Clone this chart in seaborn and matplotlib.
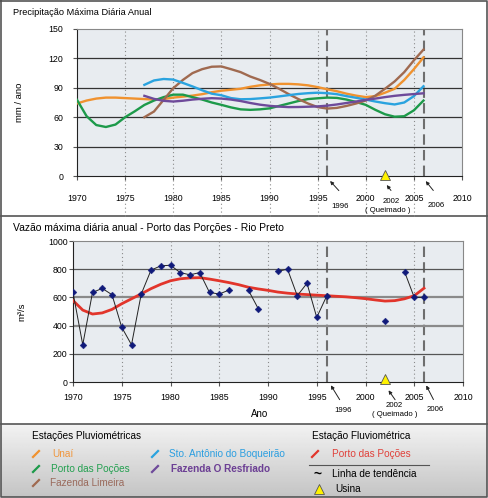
import numpy as np
import pandas as pd
import seaborn as sns
import matplotlib.pyplot as plt

plt.rcParams['font.family'] = ['Liberation Sans', 'DejaVu Sans']

# Precipitação máxima diária anual - curvas por estação (mm/ano)
anos_70 = list(range(1970, 2007))
anos_77 = list(range(1977, 2007))
unai = [74, 77, 79, 80, 80, 79.5, 79, 78.5, 78, 78.5, 80, 81, 82, 83.5, 85.5, 87, 88, 89,
        91, 92.5, 93.4, 94, 94, 93.5, 92.5, 90.7, 88.5, 86.5, 84, 82, 80.5, 81.5, 85, 89,
        98, 109, 121]
porto = [77.7, 61, 52, 50, 52.5, 60, 66, 72.5, 77, 80.5, 83, 83, 80.5, 78, 75, 72.6, 70, 68,
         67.5, 68, 69, 71.5, 74, 76.5, 78.5, 79.3, 80, 79.7, 78, 75.5, 72.6, 67.5, 63, 60.5,
         61, 67, 77]
limeira = [60, 65.8, 77.7, 89.6, 98, 105, 109, 111.5, 111.8, 109, 106, 101.5, 98, 94, 89,
           83.5, 78.5, 74, 70.3, 68.8, 69.5, 71.5, 74, 77, 82, 89, 96.5, 106, 118, 129]
boqueirao = [93, 97.5, 99, 98.4, 95, 91.4, 87.5, 84, 82.4, 79.5, 78.3, 78.5, 79.2, 80, 81.2,
             82.5, 83.7, 84.5, 85, 84.5, 83.5, 81.5, 79.8, 78, 76, 74.3, 73, 75, 81.5, 91.6]
resfriado = [81.8, 78.7, 76.7, 76, 76.8, 78, 78.8, 79.4, 79, 78, 76.5, 74.5, 72.8, 71.6, 70.8,
             70.3, 70.4, 70.7, 71, 71.8, 73, 74.5, 76, 77.7, 79, 80.5, 81.8, 82.8, 83.6, 84.4]

# Vazão máxima diária anual - Porto das Poções (m³/s)
vazao = [635, 264, 635, 664, 619, 388, 264, 624, 793, 824, 828, 776, 760, 776, 635, 624, 652,
         np.nan, 650, 520, np.nan, 785, 800, 612, 700, 458, 607, np.nan, np.nan, np.nan,
         np.nan, np.nan, 430, np.nan, 783, 600, 600]
tendencia = [578, 510, 482, 490, 515, 555, 590, 625, 662, 693, 718, 732, 738, 740, 730, 718,
             705, 690, 672, 660, 650, 638, 630, 624, 620, 616, 612, 608, 604, 598, 591, 582,
             574, 577, 590, 612, 665]

anos_ticks = list(range(1970, 2011, 5))
anos_marcados = [1996, 2006]
ano_usina = 2002

estacoes = ['Unaí', 'Porto das Poções', 'Fazenda Limeira', 'Sto. Antônio do Boqueirão',
            'Fazenda O Resfriado']
cores = {'Unaí': '#f0922f', 'Porto das Poções': '#1d9a4a', 'Fazenda Limeira': '#a06a50',
         'Sto. Antônio do Boqueirão': '#2aa3df', 'Fazenda O Resfriado': '#6e4a9a'}

prec = pd.concat([
    pd.DataFrame({'ano': anos_70, 'mm': unai, 'estacao': 'Unaí'}),
    pd.DataFrame({'ano': anos_70, 'mm': porto, 'estacao': 'Porto das Poções'}),
    pd.DataFrame({'ano': anos_77, 'mm': limeira, 'estacao': 'Fazenda Limeira'}),
    pd.DataFrame({'ano': anos_77, 'mm': boqueirao, 'estacao': 'Sto. Antônio do Boqueirão'}),
    pd.DataFrame({'ano': anos_77, 'mm': resfriado, 'estacao': 'Fazenda O Resfriado'}),
])

vaz = pd.DataFrame({'ano': anos_70, 'q': vazao, 'trend': tendencia})
vaz['seg'] = vaz['q'].isna().cumsum()
pontos = vaz.dropna(subset=['q'])

fig = plt.figure(figsize=(4.88, 4.98), dpi=100)

# fundo / molduras em coordenadas de pixel
bg = fig.add_axes([0, 0, 1, 1])
bg.set_xlim(0, 488)
bg.set_ylim(498, 0)
bg.axis('off')
grad = np.linspace(0.95, 0.77, 60)[:, None] * np.ones((60, 2))
bg.imshow(grad, cmap='gray', vmin=0, vmax=1, extent=(1, 487, 497, 424), aspect='auto', zorder=0)
bg.plot([1, 487, 487, 1, 1], [1, 1, 497, 497, 1], color='#555555', lw=1.2)
bg.plot([1, 487], [216, 216], color='#555555', lw=1.2)
bg.plot([1, 487], [424, 424], color='#555555', lw=1.2)

ax1 = fig.add_axes([77 / 488, 1 - 176 / 498, 385 / 488, 147 / 498])
ax2 = fig.add_axes([73 / 488, 1 - 382 / 498, 390 / 488, 141 / 498])

for ax in (ax1, ax2):
    ax.set_facecolor('#e8ecf0')
    ax.set_xlim(1970, 2010)
    ax.set_xticks(anos_ticks)
    ax.tick_params(direction='out', length=3, width=0.8, color='#555555', labelsize=6.3)
    for x in anos_ticks[1:-1]:
        ax.axvline(x, color='#8a8a8a', ls=(0, (1, 2.5)), lw=0.8, zorder=1)
    for x in anos_marcados:
        ax.axvline(x, color='#6e6e6e', ls=(0, (5, 2.5)), lw=1.5, zorder=1)
    ax.spines['top'].set_color('#888888')
    ax.spines['right'].set_color('#888888')
    ax.spines['left'].set_color('#222222')
    ax.spines['bottom'].set_color('#222222')

# painel superior
ax1.set_ylim(0, 150)
ax1.set_yticks([0, 30, 60, 90, 120, 150])
for y in [30, 60, 90, 120]:
    ax1.axhline(y, color='#333333', lw=0.9, zorder=1)
sns.lineplot(data=prec, x='ano', y='mm', hue='estacao', hue_order=estacoes, palette=cores,
             linewidth=1.7, legend=False, ax=ax1, zorder=3)
ax1.tick_params(axis='x', pad=10)
ax1.tick_params(axis='y', pad=7)
ax1.set_xlabel('')
ax1.set_ylabel('')
# linhas pontilhadas continuam abaixo do eixo
for x in anos_ticks[1:-1]:
    ax1.plot([x, x], [0, -41], color='#8a8a8a', ls=(0, (1, 2.5)), lw=0.8, clip_on=False)
ax1.plot([ano_usina], [1.5], marker='^', ms=7.5, color='#fff200', mec='#555555', mew=0.6,
         clip_on=False, zorder=5)

# painel inferior
ax2.set_ylim(0, 1000)
ax2.set_yticks(range(0, 1001, 200))
for y, c, w in [(200, '#555555', 0.9), (400, '#8a8a8a', 1.6), (600, '#8a8a8a', 1.6),
                (800, '#555555', 0.9)]:
    ax2.axhline(y, color=c, lw=w, zorder=1)
sns.lineplot(data=vaz, x='ano', y='trend', color='#e2352b', linewidth=2, ax=ax2, zorder=3)
sns.lineplot(data=pontos, x='ano', y='q', units='seg', estimator=None, color='#222222',
             linewidth=0.7, ax=ax2, zorder=4)
sns.scatterplot(data=pontos, x='ano', y='q', marker='D', s=12, color='#101a7a',
                edgecolor='#101a7a', ax=ax2, zorder=5)
ax2.tick_params(axis='x', pad=5)
ax2.tick_params(axis='y', pad=1)
ax2.set_xlabel('')
ax2.set_ylabel('')
ax2.plot([ano_usina], [20], marker='^', ms=7.5, color='#fff200', mec='#555555', mew=0.6,
         clip_on=False, zorder=5)

# setas e anotações
seta = dict(arrowstyle='-|>', color='#222222', lw=0.7, mutation_scale=5)
ax1.annotate('', xy=(1996.1, -3), xytext=(1997.4, -17), arrowprops=seta, annotation_clip=False)
ax1.annotate('', xy=(2002.0, -7), xytext=(2002.8, -17), arrowprops=seta, annotation_clip=False)
ax1.annotate('', xy=(2006.05, -3), xytext=(2007.2, -17), arrowprops=seta, annotation_clip=False)
ax1.text(1997.3, -31, '1996', fontsize=5.6, ha='center', va='center', clip_on=False)
ax1.text(2002.6, -26.5, '2002', fontsize=5.6, ha='center', va='center', clip_on=False)
ax1.text(2002.3, -35, '( Queimado )', fontsize=5.6, ha='center', va='center', clip_on=False)
ax1.text(2007.3, -30, '2006', fontsize=5.6, ha='center', va='center', clip_on=False)

ax2.annotate('', xy=(1996.3, -7), xytext=(1997.5, -142), arrowprops=seta, annotation_clip=False)
ax2.annotate('', xy=(2002.2, -43), xytext=(2003.2, -142), arrowprops=seta, annotation_clip=False)
ax2.annotate('', xy=(2006.1, -7), xytext=(2007.1, -142), arrowprops=seta, annotation_clip=False)
ax2.text(1997.7, -199, '1996', fontsize=5.6, ha='center', va='center', clip_on=False)
ax2.text(2003.0, -170, '2002', fontsize=5.6, ha='center', va='center', clip_on=False)
ax2.text(2003.0, -227, '( Queimado )', fontsize=5.6, ha='center', va='center', clip_on=False)
ax2.text(2007.1, -192, '2006', fontsize=5.6, ha='center', va='center', clip_on=False)

# títulos e rótulos
bg.text(13, 12, 'Precipitação Máxima Diária Anual', fontsize=6.7, va='center')
bg.text(13, 228, 'Vazão máxima diária anual - Porto das Porções - Rio Preto', fontsize=7.5,
        va='center')
bg.text(20, 102, 'mm / ano', fontsize=6.8, rotation=90, ha='center', va='center')
bg.text(22, 312, 'm³/s', fontsize=6.8, rotation=90, ha='center', va='center')
bg.text(260, 414, 'Ano', fontsize=7, ha='center', va='center')

# legenda
fs = 7.2
bg.text(32, 436, 'Estações Pluviométricas', fontsize=fs, va='center')
bg.text(312, 436, 'Estação Fluviométrica', fontsize=fs, va='center')
itens = [('Unaí', 33, 454, 52, '#f0963c', 'normal'),
         ('Porto das Poções', 33, 469, 51, '#23a050', 'normal'),
         ('Fazenda Limeira', 33, 483, 50, '#9a6a5c', 'normal'),
         ('Sto. Antônio do Boqueirão', 152, 454, 169, '#2a9ee0', 'normal'),
         ('Fazenda O Resfriado', 152, 469, 171, '#6c3f94', 'bold')]
for nome, xs, ys, xt, cor, peso in itens:
    bg.plot([xs, xs + 6], [ys + 3, ys - 3], color=cores[nome], lw=1.6)
    bg.text(xt, ys, nome, color=cor, fontsize=fs, va='center', fontweight=peso)
bg.plot([312, 318], [457, 451], color='#e2352b', lw=1.6)
bg.text(332, 454, 'Porto das Poções', color='#e0413a', fontsize=fs, va='center')
bg.plot([309, 429], [465, 465], color='#555555', lw=0.8)
bg.text(318, 474, '~', fontsize=10, fontweight='bold', ha='center', va='center')
bg.text(332, 474, 'Linha de tendência', fontsize=fs, va='center')
bg.plot([319], [489], marker='^', ms=7, color='#fff200', mec='#555555', mew=0.6)
bg.text(335, 489, 'Usina', fontsize=fs, va='center')

fig.savefig('out.png', dpi=100)
